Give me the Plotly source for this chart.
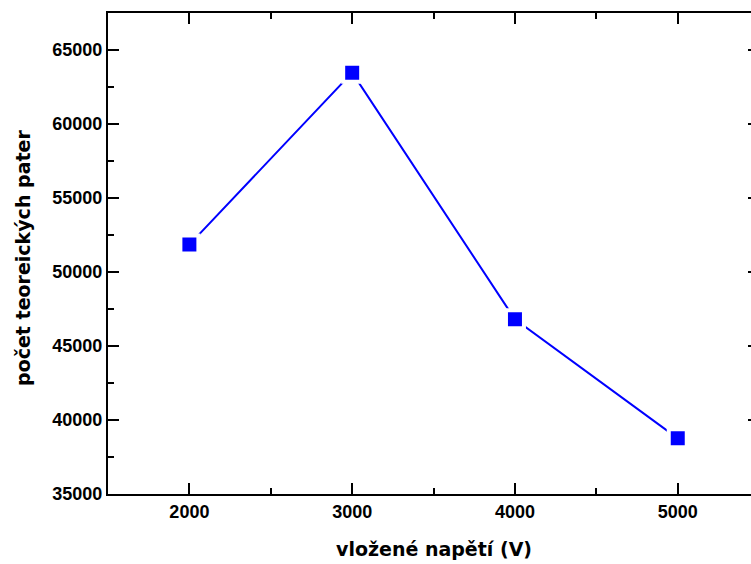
import plotly.graph_objects as go

voltage = [2000, 3000, 4000, 5000]
plates = [51850, 63470, 46800, 38760]

x_ticks = [2000, 3000, 4000, 5000]
y_ticks = [35000, 40000, 45000, 50000, 55000, 60000, 65000]

FONT = "Liberation Sans, Arial, sans-serif"
TITLE_FONT = "DejaVu Sans, Liberation Sans, sans-serif"

fig = go.Figure()
fig.add_trace(go.Scatter(
    x=voltage, y=plates, mode="lines+markers",
    line=dict(color="#0000ff", width=2),
    marker=dict(symbol="square", size=18, color="#0000ff",
                line=dict(color="white", width=4)),
    showlegend=False, hoverinfo="skip"))

# invisible trace for the right-hand tick axis
fig.add_trace(go.Scatter(x=[voltage[0]], y=[plates[0]], yaxis="y2",
                         mode="markers", marker=dict(opacity=0),
                         showlegend=False, hoverinfo="skip"))

axis_common = dict(showgrid=False, zeroline=False, showline=True,
                   linecolor="black", linewidth=2,
                   ticks="inside", ticklen=11, tickwidth=2, tickcolor="black",
                   tickformat="d",
                   tickfont=dict(family=FONT, size=18, color="black",
                                 weight="bold"))

fig.update_layout(
    width=751, height=564,
    margin=dict(l=108, r=0, t=13, b=70),
    paper_bgcolor="white", plot_bgcolor="white",
    xaxis=dict(range=[1500, 5450], tickvals=x_ticks, mirror="ticks",
               minor=dict(ticks="inside", ticklen=6, tickwidth=2,
                          tickcolor="black", dtick=500, tick0=1500),
               **axis_common),
    yaxis=dict(range=[35000, 67500], tickvals=y_ticks,
               minor=dict(ticks="inside", ticklen=6, tickwidth=2,
                          tickcolor="black", dtick=2500, tick0=35000),
               **axis_common),
    yaxis2=dict(range=[35000, 67500], tickvals=y_ticks, overlaying="y",
                side="right", showgrid=False, zeroline=False, showline=False,
                ticks="inside", ticklen=3, tickwidth=2, tickcolor="black",
                showticklabels=False),
    annotations=[
        dict(text="<b>vložené napětí (V)</b>", xref="x", yref="paper",
             x=3500, y=-0.114, yanchor="middle", xanchor="center",
             showarrow=False,
             font=dict(family=TITLE_FONT, size=19, color="black")),
        dict(text="<b>počet teoreických pater</b>", xref="paper", yref="paper",
             x=-0.132, y=0.491, xanchor="center", yanchor="middle",
             textangle=-90, showarrow=False,
             font=dict(family=TITLE_FONT, size=19, color="black")),
    ],
)

fig.write_html("out.html", config={"displayModeBar": False},
               post_script="document.body.style.margin='0';"
                           "document.body.style.overflow='hidden';")
